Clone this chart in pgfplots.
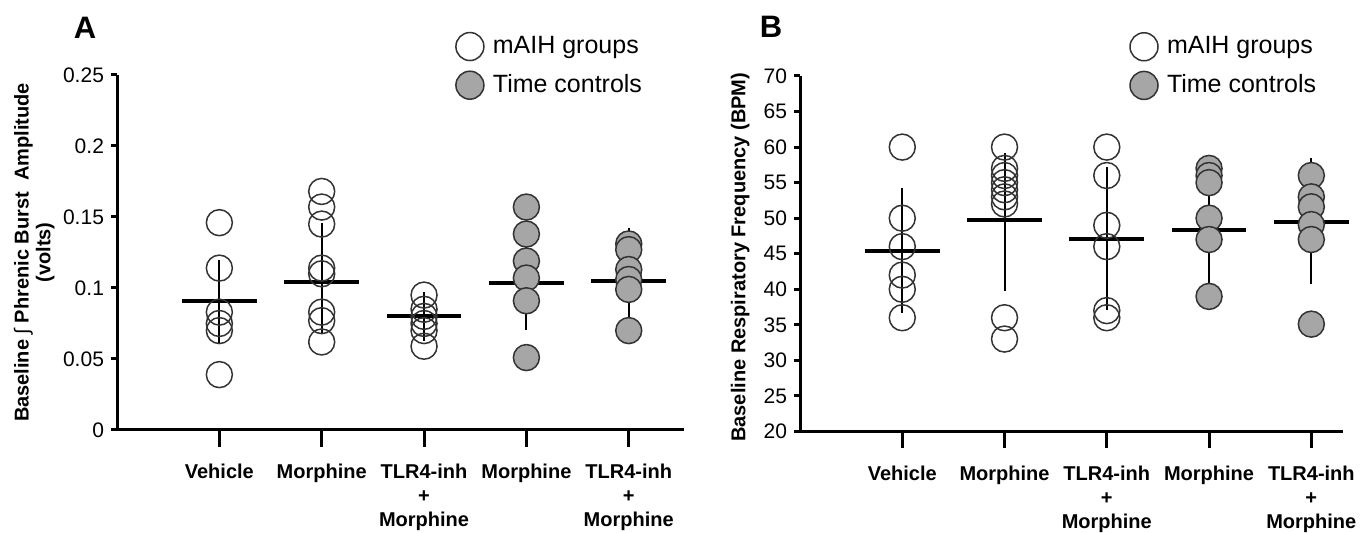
\documentclass[border=0pt]{standalone}
\usepackage{fontspec}
\setmainfont{Liberation Sans}
\usepackage{pgfplots}
\pgfplotsset{compat=1.18}

\definecolor{tcgray}{HTML}{A6A6A6}
\definecolor{mkedge}{HTML}{333333}

\pgfplotsset{
  panel/.style={
    scale only axis, axis lines*=left, enlargelimits=false, clip=false,
    axis line style={line width=1.5pt, black},
    tick align=outside, major tick length=3pt,
    tick style={line width=1.5pt, black},
    xtick=\empty,
    extra x ticks={1,2,3,4,5},
    extra x tick labels={Vehicle, Morphine, {TLR4-inh\\+\\Morphine}, Morphine, {TLR4-inh\\+\\Morphine}},
    extra x tick style={major tick length=8.5pt,
      tick label style={align=center, font=\bfseries\fontsize{10}{12}\selectfont, yshift=-5pt}},
    yticklabel style={font=\fontsize{10.5}{12}\selectfont},
    ylabel style={font=\bfseries\fontsize{10}{10.8}\selectfont, align=center, anchor=center},
    legend style={draw=none, fill=none, anchor=north west, inner sep=0pt,
      font=\fontsize{12.5}{14}\selectfont, row sep=5pt},
    legend cell align=left,
    legend image code/.code={\path[draw=none, fill=none] (0pt,0pt) -- (16.5pt,0pt); \draw[#1] plot coordinates {(7pt,0pt)};},
  },
  open/.style={only marks, mark=o, mark size=6.5pt, mark options={draw=mkedge, line width=0.75pt}},
  filled/.style={only marks, mark=*, mark size=6.5pt, mark options={fill=tcgray, draw=mkedge, line width=0.75pt}},
  meanbar/.style={draw=none, mark=none, forget plot, error bars/.cd, x dir=both, x fixed=0.365,
    error mark=none, error bar style={draw=black, line width=2pt}},
  sembar/.style={draw=none, mark=none, forget plot, error bars/.cd, y dir=both, y explicit,
    error mark=none, error bar style={draw=black, line width=1pt}},
}

\begin{document}
\begin{tikzpicture}
\path[use as bounding box] (0,0) rectangle (685pt,266.5pt);

% panel A
\begin{axis}[panel,
  at={(58.5pt,51.5pt)}, anchor=south west,
  width=283.5pt, height=177.5pt,
  xmin=0, xmax=5.54, ymin=0, ymax=0.25,
  ytick={0,0.05,0.1,0.15,0.2,0.25},
  yticklabels={0,0.05,0.1,0.15,0.2,0.25},
  ylabel={Baseline {\mdseries ∫} Phrenic Burst\ \ Amplitude\\(volts)},
  ylabel style={at={(axis description cs:-0.146,0.5)}},
  legend style={at={(axis description cs:0.597,1.121)}},
]
\addlegendimage{open, mark size=7pt}
\addlegendentry{mAIH groups}
\addlegendimage{filled, mark size=7pt}
\addlegendentry{Time controls}

\addplot[open, forget plot] coordinates {(1,0.146) (1,0.114) (1,0.083) (1,0.075) (1,0.070) (1,0.039)};
\addplot[open, forget plot] coordinates {(2,0.168) (2,0.157) (2,0.145) (2,0.114) (2,0.110) (2,0.083) (2,0.077) (2,0.062)};
\addplot[open, forget plot] coordinates {(3,0.095) (3,0.085) (3,0.080) (3,0.075) (3,0.070) (3,0.059)};
\addplot[filled, forget plot] coordinates {(4,0.157) (4,0.138) (4,0.119) (4,0.107) (4,0.091) (4,0.051)};
\addplot[filled, forget plot] coordinates {(5,0.131) (5,0.127) (5,0.113) (5,0.106) (5,0.099) (5,0.070)};

\addplot[sembar] coordinates {
  (1,0.0905) += (0,0.029) -= (0,0.029)
  (2,0.1045) += (0,0.041) -= (0,0.037)
  (3,0.0800) += (0,0.017) -= (0,0.017)
  (4,0.1032) += (0,0.034) -= (0,0.0325)
  (5,0.1050) += (0,0.037) -= (0,0.037)
};
\addplot[meanbar] coordinates {(1,0.0905) (2,0.1045) (3,0.0800) (4,0.1032) (5,0.1050)};
\end{axis}

% panel B
\begin{axis}[panel,
  at={(400pt,50.75pt)}, anchor=south west,
  width=271.5pt, height=177.75pt,
  xmin=0, xmax=5.31, ymin=20, ymax=70,
  ytick={20,25,30,35,40,45,50,55,60,65,70},
  yticklabels={20,25,30,35,40,45,50,55,60,65,70},
  ylabel={Baseline Respiratory Frequency (BPM)},
  ylabel style={at={(axis description cs:-0.11,0.49)}},
  legend style={at={(axis description cs:0.607,1.123)}},
]
\addlegendimage{open, mark size=7pt}
\addlegendentry{mAIH groups}
\addlegendimage{filled, mark size=7pt}
\addlegendentry{Time controls}

\addplot[open, forget plot] coordinates {(1,60) (1,50) (1,46) (1,42) (1,40) (1,36)};
\addplot[open, forget plot] coordinates {(2,60) (2,57) (2,56) (2,55) (2,54) (2,53) (2,52) (2,36) (2,33)};
\addplot[open, forget plot] coordinates {(3,60) (3,56) (3,49) (3,46) (3,37) (3,36)};
\addplot[filled, forget plot] coordinates {(4,57) (4,56) (4,55) (4,50) (4,47) (4,39)};
\addplot[filled, forget plot] coordinates {(5,56) (5,53) (5,51.6) (5,49.1) (5,47) (5,35.1)};

\addplot[sembar] coordinates {
  (1,45.4) += (0,8.8) -= (0,8.8)
  (2,49.7) += (0,9.4) -= (0,10.0)
  (3,47.1) += (0,10.1) -= (0,10.0)
  (4,48.3) += (0,9.4) -= (0,8.9)
  (5,49.5) += (0,8.9) -= (0,8.7)
};
\addplot[meanbar] coordinates {(1,45.4) (2,49.7) (3,47.1) (4,48.3) (5,49.5)};
\end{axis}

\node[font=\bfseries\fontsize{15.5}{18}\selectfont] at (42.5pt,252.5pt) {A};
\node[font=\bfseries\fontsize{15.5}{18}\selectfont] at (385.5pt,253pt) {B};
\end{tikzpicture}
\end{document}
